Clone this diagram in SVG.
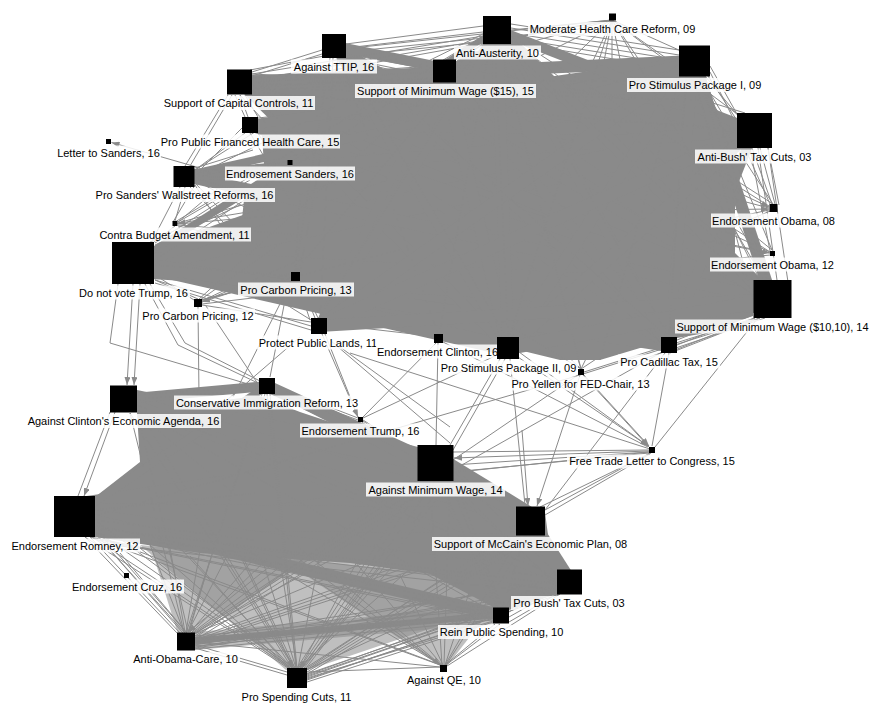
<svg xmlns="http://www.w3.org/2000/svg" width="885" height="715" viewBox="0 0 885 715">
<style>
.e{stroke:#8a8a8a;stroke-width:1;fill:none}
.b{stroke:#8a8a8a;fill:none;stroke-linecap:butt}
.core{fill:#8a8a8a}
.w{fill:#8a8a8a;fill-opacity:0.55}
.n{fill:#000}
.lb{fill:#fff;fill-opacity:0.85}
.t{font-family:"Liberation Sans",Arial,sans-serif;font-size:11px;fill:#000;text-anchor:middle}
.a{stroke:#8a8a8a;stroke-width:1;fill:none;marker-end:url(#ar)}
</style>
<defs>
<marker id="ar" viewBox="0 0 8 6" refX="8" refY="3" markerWidth="8" markerHeight="6" orient="auto" markerUnits="userSpaceOnUse"><path d="M0,0 L8,3 L0,6 z" fill="#8a8a8a"/></marker>
</defs>
<rect width="885" height="715" fill="#fff"/>
<g id="connectors">
<polygon class="w" points="150,545 320,552 196,634 178,634"/>
<polygon class="w" points="140,545 560,585 308,670 286,670"/>
<polygon class="w" points="280,558 530,560 447,666 440,666"/>
<polygon class="w" points="195,632 493,606 493,624 195,650"/>
<polygon class="core" points="260,100 340,80 433,78 470,52 511,46 555,78 640,82 680,76 700,85 725,135 737,148 735,200 735,262 753,282 753,316 700,334 677,338 640,348 600,360 560,360 519,350 470,338 443,332 400,328 327,318 310,290 290,275 250,272 155,268 155,248 240,238 245,190 265,180 262,135 275,115"/>
<polygon class="core" points="137,390 200,403 259,396 300,412 360,432 418,447 453,470 516,507 545,512 548,535 557,572 557,594 509,610 493,607 430,574 350,563 200,553 95,537 95,497 140,462 137,413"/>
<g class="b">
<line x1="133" y1="263" x2="772" y2="299" stroke-width="30"/>
<line x1="133" y1="263" x2="754" y2="130" stroke-width="24"/>
<line x1="133" y1="263" x2="694" y2="61" stroke-width="16"/>
<line x1="133" y1="263" x2="497" y2="30" stroke-width="6"/>
<line x1="133" y1="263" x2="444" y2="71" stroke-width="6"/>
<line x1="133" y1="263" x2="508" y2="348" stroke-width="16"/>
<line x1="133" y1="263" x2="669" y2="345" stroke-width="14"/>
<line x1="239" y1="82" x2="772" y2="299" stroke-width="14"/>
<line x1="239" y1="82" x2="754" y2="130" stroke-width="16"/>
<line x1="239" y1="82" x2="694" y2="61" stroke-width="12"/>
<line x1="239" y1="82" x2="508" y2="348" stroke-width="10"/>
<line x1="239" y1="82" x2="669" y2="345" stroke-width="10"/>
<line x1="250" y1="125" x2="772" y2="299" stroke-width="12"/>
<line x1="250" y1="125" x2="754" y2="130" stroke-width="12"/>
<line x1="250" y1="125" x2="694" y2="61" stroke-width="10"/>
<line x1="184" y1="176" x2="772" y2="299" stroke-width="12"/>
<line x1="184" y1="176" x2="754" y2="130" stroke-width="12"/>
<line x1="184" y1="176" x2="694" y2="61" stroke-width="8"/>
<line x1="334" y1="46" x2="772" y2="299" stroke-width="10"/>
<line x1="334" y1="46" x2="754" y2="130" stroke-width="10"/>
<line x1="334" y1="46" x2="508" y2="348" stroke-width="8"/>
<line x1="334" y1="46" x2="669" y2="345" stroke-width="8"/>
<line x1="444" y1="71" x2="772" y2="299" stroke-width="14"/>
<line x1="444" y1="71" x2="754" y2="130" stroke-width="12"/>
<line x1="444" y1="71" x2="508" y2="348" stroke-width="12"/>
<line x1="444" y1="71" x2="669" y2="345" stroke-width="10"/>
<line x1="444" y1="71" x2="319" y2="326" stroke-width="8"/>
<line x1="497" y1="30" x2="772" y2="299" stroke-width="14"/>
<line x1="497" y1="30" x2="508" y2="348" stroke-width="12"/>
<line x1="497" y1="30" x2="319" y2="326" stroke-width="10"/>
<line x1="497" y1="30" x2="754" y2="130" stroke-width="10"/>
<line x1="497" y1="30" x2="669" y2="345" stroke-width="10"/>
<line x1="694" y1="61" x2="319" y2="326" stroke-width="12"/>
<line x1="694" y1="61" x2="508" y2="348" stroke-width="12"/>
<line x1="694" y1="61" x2="772" y2="299" stroke-width="12"/>
<line x1="694" y1="61" x2="669" y2="345" stroke-width="10"/>
<line x1="754" y1="130" x2="319" y2="326" stroke-width="12"/>
<line x1="754" y1="130" x2="508" y2="348" stroke-width="12"/>
<line x1="754" y1="130" x2="669" y2="345" stroke-width="10"/>
<line x1="772" y1="299" x2="319" y2="326" stroke-width="12"/>
<line x1="772" y1="299" x2="508" y2="348" stroke-width="14"/>
<line x1="74" y1="516" x2="435" y2="463" stroke-width="36"/>
<line x1="74" y1="516" x2="530" y2="521" stroke-width="26"/>
<line x1="74" y1="516" x2="569" y2="582" stroke-width="18"/>
<line x1="74" y1="516" x2="501" y2="615" stroke-width="12"/>
<line x1="123" y1="399" x2="435" y2="463" stroke-width="20"/>
<line x1="123" y1="399" x2="530" y2="521" stroke-width="14"/>
<line x1="123" y1="399" x2="569" y2="582" stroke-width="10"/>
<line x1="435" y1="463" x2="530" y2="521" stroke-width="26"/>
<line x1="435" y1="463" x2="569" y2="582" stroke-width="18"/>
<line x1="530" y1="521" x2="569" y2="582" stroke-width="16"/>
<line x1="267" y1="386" x2="435" y2="463" stroke-width="12"/>
<line x1="123" y1="399" x2="267" y2="386" stroke-width="10"/>
<line x1="74" y1="516" x2="267" y2="386" stroke-width="8"/>
<line x1="267" y1="386" x2="530" y2="521" stroke-width="8"/>
<line x1="435" y1="463" x2="501" y2="615" stroke-width="10"/>
<line x1="186" y1="641" x2="501" y2="615" stroke-width="6"/>
</g>
<path class="e" d="M346,44 L483,26 M346,48 L483,32 M346,52 L484,38 M346,56 L484,42 M346,50 L433,64 M346,54 L433,70 M344,58 L433,76 M340,58 L434,80 M252,72 L322,50 M252,76 L322,54 M250,70 L324,56 M252,78 L433,66 M252,82 L433,72 M252,86 L433,78 M252,90 L434,82 M252,74 L483,36 M252,80 L484,40 M333,58 L320,318 M340,58 L438,334 M344,58 L508,340 M346,56 L669,338 M338,58 L300,272 M330,58 L295,272 M511,24 L679,50 M511,28 L679,55 M511,33 L679,60 M511,38 L679,65 M511,42 L680,70 M483,38 L456,62 M485,44 L452,60 M490,44 L456,66 M490,44 L440,330 M495,44 L508,337 M500,44 L581,369 M505,44 L669,337 M487,44 L319,318 M485,44 L295,272 M484,42 L198,300 M483,40 L155,260 M483,36 L175,222 M483,34 L195,176 M505,44 L760,280 M510,40 L745,113 M511,36 L773,204 M511,38 L772,250 M612,20 L497,40 M612,20 L511,30 M612,20 L445,65 M612,20 L540,56 M612,20 L560,70 M612,20 L585,78 M612,20 L600,82 M612,20 L612,84 M612,20 L625,84 M612,20 L690,55 M612,20 L683,70 M612,20 L745,120 M612,20 L508,340 M612,20 L250,85 M612,20 L334,50 M612,20 L770,290 M612,20 L700,150 M612,20 L520,36 M705,76 L740,118 M708,76 L740,125 M710,72 L740,132 M700,76 L738,140 M695,76 L740,146 M710,66 L737,114 M690,76 L700,200 M700,76 L715,200 M705,76 L770,290 M700,76 L760,280 M694,76 L753,300 M686,76 L669,337 M680,76 L600,360 M690,76 L773,204 M700,76 L772,250 M745,148 L770,204 M752,148 L772,204 M760,148 L775,204 M768,148 L779,205 M768,148 L788,282 M758,148 L777,280 M750,148 L770,251 M680,150 L769,206 M700,190 L769,208 M700,225 L769,210 M715,235 L770,211 M700,220 L770,252 M710,240 L770,253 M720,260 L770,255 M690,200 L770,252 M720,200 L760,280 M730,210 L770,280 M753,310 L677,340 M753,315 L677,345 M755,318 L675,350 M760,318 L670,353 M765,318 L640,360 M755,318 L584,372 M760,318 L583,374 M581,369 L540,330 M581,369 L600,330 M581,369 L640,330 M581,369 L500,320 M581,369 L560,300 M438,334 L420,300 M438,334 L460,300 M438,334 L400,310 M438,334 L480,310 M327,320 L400,300 M327,322 L450,320 M327,324 L508,345 M325,318 L360,280 M320,318 L330,260 M315,318 L300,281 M311,320 L250,282 M300,274 L360,250 M300,276 L400,260 M299,278 L319,320 M297,281 L310,320 M291,278 L200,300 M291,276 L155,265 M295,272 L300,200 M202,301 L250,278 M202,302 L307,257 M202,304 L320,290 M202,305 L311,322 M200,300 L300,230 M198,299 L155,280 M202,300 L400,250 M155,280 L311,326 M155,283 L311,330 M155,275 L194,300 M178,222 L250,180 M178,223 L260,200 M178,224 L280,215 M178,225 L300,235 M178,226 L260,245 M178,222 L240,170 M173,222 L195,185 M175,226 L150,245 M195,170 L258,130 M195,168 L253,150 M195,172 L290,162 M195,174 L290,165 M195,176 L300,180 M195,178 L270,200 M195,180 L250,210 M195,183 L240,230 M190,187 L240,240 M185,187 L175,221 M180,187 L150,245 M195,185 L230,240 M292,162 L350,150 M292,163 L360,170 M288,162 L258,130 M288,163 L195,172 M292,164 L330,185 M290,160 L300,130 M258,118 L330,110 M258,122 L340,118 M258,126 L300,140 M258,130 L290,162 M258,133 L280,170 M250,133 L290,200 M245,133 L195,170 M242,128 L195,175 M252,92 L300,110 M252,95 L290,130 M245,95 L258,117 M240,95 L300,160 M240,95 L248,117 M235,95 L245,117 M232,95 L190,166 M228,95 L185,166 M252,74 L560,90 M252,78 L620,95 M252,84 L680,80 M252,88 L700,100 M252,92 L740,130 M155,245 L240,205 M155,243 L230,195 M150,242 L180,228"/>
<path class="e" d="M118,284 L110,343 L258,387 M150,284 L185,343 L262,382 M145,284 L178,345 L260,384 M198,307 L199,397 M206,306 L258,384 M287,290 L270,377 M287,290 L233,397 M325,334 L358,417 M330,340 L450,443 M340,347 L450,427 M350,353 L650,449 M300,337 L227,400 M436,343 L363,417 M438,343 L436,445 M443,342 L648,447 M500,359 L450,445 M505,359 L453,450 M515,355 L648,446 M510,359 L525,505 M497,355 L363,418 M583,375 L649,447 M578,375 L453,460 M580,375 L95,516 M662,352 L453,470 M669,353 L652,446 M665,353 L545,510 M758,318 L655,447 M363,420 L418,455 M363,421 L418,460 M362,422 L418,465 M275,386 L358,418 M275,390 L358,420 M259,386 L137,395 M265,394 L186,633 M270,394 L297,668 M110,412 L78,496 M649,450 L453,452 M649,452 L453,465 M649,453 L453,472 M650,453 L545,510 M650,454 L545,515 M651,453 L540,507 M649,452 L95,510"/>
<path class="e" d="M90,537 L180,633 M95,533 L183,633 M95,528 L186,632 M85,537 L178,634 M130,413 L184,632 M137,410 L188,632 M420,481 L192,634 M430,481 L194,634 M440,481 L195,636 M418,475 L195,638 M450,481 L195,640 M516,530 L195,640 M520,535 L195,642 M530,535 L195,644 M516,525 L195,638 M557,580 L195,645 M557,588 L195,647 M560,594 L195,648 M493,612 L195,644 M493,616 L195,646 M493,620 L195,649 M262,394 L188,632 M200,550 L186,632 M230,550 L188,632 M260,552 L190,632 M300,552 L192,633 M340,555 L193,634 M380,556 L194,634 M150,545 L184,632 M170,548 L185,632 M92,537 L290,668 M95,530 L292,668 M85,537 L288,668 M95,520 L294,668 M130,413 L292,668 M137,408 L295,668 M418,481 L297,668 M425,481 L300,668 M435,481 L302,668 M445,481 L304,668 M453,478 L306,668 M516,530 L305,670 M520,535 L307,670 M530,535 L307,672 M540,535 L307,674 M557,585 L307,675 M557,590 L307,677 M560,594 L307,680 M493,612 L307,676 M493,618 L307,679 M493,622 L307,682 M267,394 L296,668 M150,545 L290,668 M180,548 L292,668 M220,550 L294,668 M260,552 L296,668 M320,555 L298,668 M360,556 L300,668 M400,558 L302,668 M240,551 L295,668 M130,540 L289,668 M195,645 L287,672 M195,648 L287,675 M95,535 L441,665 M90,537 L440,665 M137,413 L441,665 M430,481 L442,665 M450,481 L444,665 M520,535 L445,665 M530,535 L446,665 M560,594 L447,666 M495,624 L445,665 M500,624 L446,665 M307,672 L440,667 M195,642 L440,667 M250,552 L441,665 M350,556 L442,665 M95,525 L493,610 M95,533 L493,614 M90,537 L493,618 M137,410 L493,612 M440,481 L497,607 M450,481 L500,607 M453,475 L502,607 M525,535 L503,607 M557,585 L509,612 M557,590 L509,617 M557,594 L509,622 M195,640 L493,618 M453,470 L557,575 M450,481 L557,586 M535,535 L560,570 M545,532 L565,570 M540,535 L558,572 M95,520 L557,578 M95,528 L557,584 M95,535 L557,590 M137,405 L557,576 M110,550 L185,633 M120,553 L187,633 M210,560 L189,632 M270,556 L191,633 M190,556 L290,668 M280,560 L297,668 M380,565 L301,668 M450,575 L304,669 M480,590 L306,670 M300,570 L441,665 M400,575 L443,665 M470,590 L445,665 M195,636 L493,609 M195,638 L557,583 M195,644 L557,592 M307,678 L493,621 M307,674 L557,588 M100,540 L493,620 M110,545 L557,594"/>
<line class="a" x1="200" y1="168" x2="111.5" y2="142.5"/>
<line class="a" x1="690" y1="170" x2="769" y2="207"/>
<line class="a" x1="705" y1="210" x2="769" y2="209"/>
<line class="a" x1="700" y1="240" x2="770" y2="253"/>
<line class="a" x1="700" y1="240" x2="753" y2="281"/>
<line class="a" x1="519" y1="352" x2="648" y2="446"/>
<line class="a" x1="584" y1="375" x2="649" y2="446"/>
<line class="a" x1="522" y1="430" x2="528" y2="506"/>
<line class="a" x1="580" y1="375" x2="537" y2="506"/>
<line class="a" x1="133" y1="284" x2="127" y2="385"/>
<line class="a" x1="140" y1="284" x2="134" y2="385"/>
<line class="a" x1="259" y1="390" x2="137.5" y2="399"/>
<line class="a" x1="115" y1="412" x2="84" y2="496"/>
<line class="a" x1="322" y1="334" x2="358" y2="417"/>
<line class="a" x1="649" y1="451" x2="454" y2="458"/>
<line class="a" x1="453" y1="476" x2="557" y2="580"/>
<line class="a" x1="300" y1="270" x2="202" y2="302"/>
<line class="a" x1="260" y1="210" x2="177.5" y2="223.5"/>
<line class="a" x1="230" y1="230" x2="155" y2="252"/>
<line class="a" x1="330" y1="110" x2="252" y2="84"/>
<line class="a" x1="360" y1="190" x2="292.5" y2="163"/>
<line class="a" x1="290" y1="550" x2="188" y2="632"/>
<line class="a" x1="420" y1="560" x2="298" y2="668"/>
<line class="a" x1="300" y1="560" x2="440.5" y2="665"/>
<line class="a" x1="240" y1="555" x2="293" y2="668"/>
</g>
<g id="n-modhc"><rect class="n" x="609" y="13.5" width="7" height="7"/><rect class="lb" x="528" y="22" width="169" height="14"/><text class="t" x="612.5" y="33">Moderate Health Care Reform, 09</text></g>
<g id="n-antiausterity"><rect class="n" x="483" y="16" width="28" height="28"/><rect class="lb" x="454" y="45.5" width="87" height="14"/><text class="t" x="497.5" y="56.5">Anti-Austerity, 10</text></g>
<g id="n-ttip"><rect class="n" x="322" y="34" width="24" height="24"/><rect class="lb" x="291" y="59.5" width="86" height="14"/><text class="t" x="334" y="70.5">Against TTIP, 16</text></g>
<g id="n-minwage15"><rect class="n" x="433" y="59.5" width="23" height="23"/><rect class="lb" x="355" y="84" width="181" height="14"/><text class="t" x="445.5" y="95">Support of Minimum Wage ($15), 15</text></g>
<g id="n-stimulus1"><rect class="n" x="679" y="45.5" width="31" height="31"/><rect class="lb" x="627" y="78" width="136" height="14"/><text class="t" x="695" y="89">Pro Stimulus Package I, 09</text></g>
<g id="n-capital"><rect class="n" x="227" y="69.5" width="25" height="25"/><rect class="lb" x="162" y="96" width="153" height="14"/><text class="t" x="238.5" y="107">Support of Capital Controls, 11</text></g>
<g id="n-antibush"><rect class="n" x="737" y="113" width="35" height="35"/><rect class="lb" x="695" y="149.5" width="119" height="14"/><text class="t" x="754.5" y="160.5">Anti-Bush' Tax Cuts, 03</text></g>
<g id="n-publichc"><rect class="n" x="242" y="117" width="16" height="16"/><rect class="lb" x="160" y="134.5" width="180" height="14"/><text class="t" x="250" y="145.5">Pro Public Financed Health Care, 15</text></g>
<g id="n-letter"><rect class="n" x="106" y="139" width="5" height="5"/><rect class="lb" x="56" y="145.5" width="105" height="14"/><text class="t" x="108.5" y="156.5">Letter to Sanders, 16</text></g>
<g id="n-endsanders"><rect class="n" x="287.5" y="160" width="5" height="5"/><rect class="lb" x="225" y="166.5" width="130" height="14"/><text class="t" x="290" y="177.5">Endrosement Sanders, 16</text></g>
<g id="n-wallstreet"><rect class="n" x="173.5" y="166" width="21" height="21"/><rect class="lb" x="94" y="188" width="181" height="14"/><text class="t" x="184.5" y="199">Pro Sanders' Wallstreet Reforms, 16</text></g>
<g id="n-obama08"><rect class="n" x="769.5" y="204" width="8" height="8"/><rect class="lb" x="711" y="213.5" width="125" height="14"/><text class="t" x="773.5" y="224.5">Endorsement Obama, 08</text></g>
<g id="n-contra"><rect class="n" x="172.5" y="221" width="5" height="5"/><rect class="lb" x="98" y="227.5" width="153" height="14"/><text class="t" x="174.5" y="238.5">Contra Budget Amendment, 11</text></g>
<g id="n-obama12"><rect class="n" x="770" y="251" width="5" height="5"/><rect class="lb" x="710" y="257.5" width="125" height="14"/><text class="t" x="772.5" y="268.5">Endorsement Obama, 12</text></g>
<g id="n-notrump"><rect class="n" x="112" y="242" width="42" height="42"/><rect class="lb" x="77" y="285.5" width="113" height="14"/><text class="t" x="133.5" y="296.5">Do not vote Trump, 16</text></g>
<g id="n-carbon13"><rect class="n" x="291" y="272" width="9" height="9"/><rect class="lb" x="238" y="282.5" width="116" height="14"/><text class="t" x="296" y="293.5">Pro Carbon Pricing, 13</text></g>
<g id="n-minwage1010"><rect class="n" x="753.5" y="280" width="38" height="38"/><rect class="lb" x="675" y="319.5" width="195" height="14"/><text class="t" x="772.5" y="330.5">Support of Minimum Wage ($10,10), 14</text></g>
<g id="n-carbon12"><rect class="n" x="194" y="299" width="8" height="8"/><rect class="lb" x="141" y="308.5" width="114" height="14"/><text class="t" x="198" y="319.5">Pro Carbon Pricing, 12</text></g>
<g id="n-lands"><rect class="n" x="311" y="318" width="16" height="16"/><rect class="lb" x="257" y="335.5" width="122" height="14"/><text class="t" x="318" y="346.5">Protect Public Lands, 11</text></g>
<g id="n-clinton"><rect class="n" x="434" y="334" width="9" height="9"/><rect class="lb" x="376" y="344.5" width="123" height="14"/><text class="t" x="437.5" y="355.5">Endorsement Clinton, 16</text></g>
<g id="n-stimulus2"><rect class="n" x="497" y="337" width="22" height="22"/><rect class="lb" x="439" y="360.5" width="139" height="14"/><text class="t" x="508.5" y="371.5">Pro Stimulus Package II, 09</text></g>
<g id="n-cadillac"><rect class="n" x="661" y="337" width="16" height="16"/><rect class="lb" x="618" y="354.5" width="102" height="14"/><text class="t" x="669" y="365.5">Pro Cadillac Tax, 15</text></g>
<g id="n-yellen"><rect class="n" x="578" y="369" width="6" height="6"/><rect class="lb" x="509" y="376.5" width="143" height="14"/><text class="t" x="580.5" y="387.5">Pro Yellen for FED-Chair, 13</text></g>
<g id="n-immigration"><rect class="n" x="259" y="378" width="16" height="16"/><rect class="lb" x="174" y="395.5" width="186" height="14"/><text class="t" x="267" y="406.5">Conservative Immigration Reform, 13</text></g>
<g id="n-againstclinton"><rect class="n" x="110" y="385.5" width="27" height="27"/><rect class="lb" x="26" y="414" width="195" height="14"/><text class="t" x="123.5" y="425">Against Clinton's Economic Agenda, 16</text></g>
<g id="n-trump"><rect class="n" x="358" y="417" width="5" height="5"/><rect class="lb" x="300" y="423.5" width="121" height="14"/><text class="t" x="360.5" y="434.5">Endorsement Trump, 16</text></g>
<g id="n-freetrade"><rect class="n" x="649" y="447" width="6" height="6"/><rect class="lb" x="567" y="454.5" width="170" height="14"/><text class="t" x="652" y="464.5">Free Trade Letter to Congress, 15</text></g>
<g id="n-againstminwage"><rect class="n" x="417.5" y="445" width="36" height="36"/><rect class="lb" x="366" y="482.5" width="139" height="14"/><text class="t" x="435.5" y="493.5">Against Minimum Wage, 14</text></g>
<g id="n-romney"><rect class="n" x="54" y="496" width="41" height="41"/><rect class="lb" x="10" y="538.5" width="130" height="14"/><text class="t" x="75" y="549.5">Endorsement Romney, 12</text></g>
<g id="n-mccain"><rect class="n" x="516" y="506.5" width="29" height="29"/><rect class="lb" x="432" y="537" width="197" height="14"/><text class="t" x="530.5" y="548">Support of McCain's Economic Plan, 08</text></g>
<g id="n-cruz"><rect class="n" x="124" y="573" width="5" height="5"/><rect class="lb" x="70" y="579.5" width="114" height="14"/><text class="t" x="127" y="590.5">Endorsement Cruz, 16</text></g>
<g id="n-probush"><rect class="n" x="557" y="569.5" width="25" height="25"/><rect class="lb" x="511" y="596" width="116" height="14"/><text class="t" x="569" y="606.5">Pro Bush' Tax Cuts, 03</text></g>
<g id="n-rein"><rect class="n" x="493" y="607.5" width="16" height="16"/><rect class="lb" x="438" y="625" width="127" height="14"/><text class="t" x="501.5" y="636">Rein Public Spending, 10</text></g>
<g id="n-antiobamacare"><rect class="n" x="177" y="632.5" width="18" height="18"/><rect class="lb" x="131" y="652" width="109" height="14"/><text class="t" x="185.5" y="663">Anti-Obama-Care, 10</text></g>
<g id="n-spendingcuts"><rect class="n" x="287" y="668" width="20" height="20"/><rect class="lb" x="240" y="689.5" width="113" height="14"/><text class="t" x="296.5" y="700.5">Pro Spending Cuts, 11</text></g>
<g id="n-againstqe"><rect class="n" x="440" y="665" width="7" height="7"/><rect class="lb" x="405" y="673.5" width="78" height="14"/><text class="t" x="444" y="683.5">Against QE, 10</text></g>
</svg>
